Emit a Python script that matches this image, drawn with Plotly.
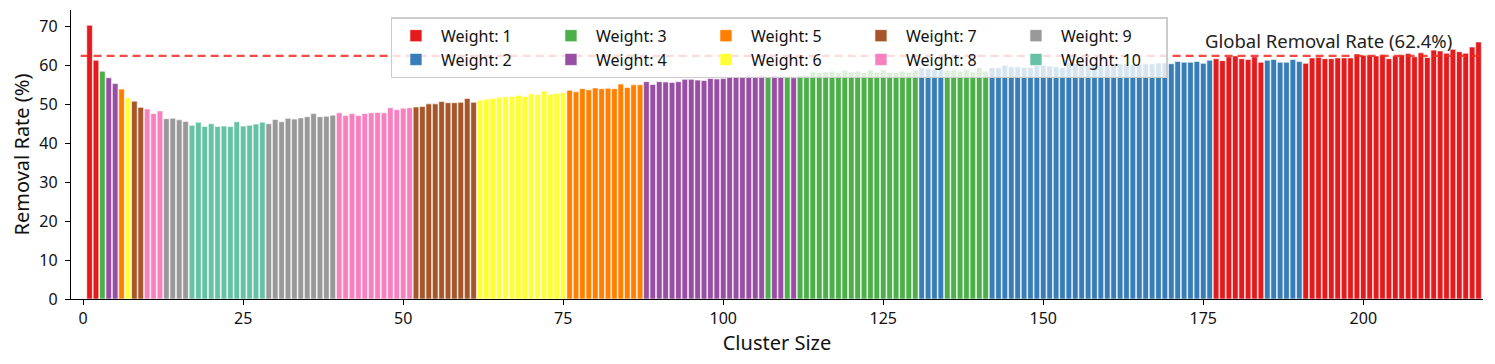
import plotly.graph_objects as go

# cluster sizes 1..218, removal rate (%) and the weight each size falls under
cluster_size = list(range(1, 219))

removal_rate = [
    70.3, 61.3, 58.5, 56.8, 55.3, 53.9, 51.6, 50.8, 49.2, 48.8,
    47.6, 48.3, 46.3, 46.4, 46.0, 45.6, 44.6, 45.4, 44.3, 45.0,
    44.3, 44.4, 44.3, 45.5, 44.4, 44.6, 44.9, 45.4, 45.0, 46.1,
    45.5, 46.4, 46.2, 46.5, 46.8, 47.6, 46.8, 46.9, 47.2, 47.8,
    47.1, 47.6, 47.1, 47.6, 47.8, 47.9, 47.8, 49.1, 48.6, 49.0,
    49.1, 49.3, 49.4, 50.1, 50.1, 50.7, 50.4, 50.4, 50.5, 51.5,
    50.5, 51.0, 51.3, 51.5, 51.8, 51.9, 52.0, 52.3, 52.0, 52.7,
    52.5, 53.4, 52.6, 52.8, 53.0, 53.6, 53.2, 54.0, 53.7, 54.2,
    54.0, 54.1, 54.0, 55.2, 54.3, 55.0, 55.0, 55.8, 55.1, 55.8,
    55.7, 55.6, 55.8, 56.4, 56.4, 56.2, 56.1, 56.6, 56.5, 56.6,
    57.1, 57.0, 56.9, 57.3, 57.2, 57.3, 57.0, 57.3, 57.2, 57.2,
    56.8, 57.4, 57.4, 58.3, 58.1, 58.3, 58.5, 58.1, 58.7, 58.3,
    58.5, 58.1, 58.8, 58.2, 58.8, 58.2, 58.1, 58.5, 58.2, 58.8,
    59.4, 59.1, 58.9, 58.9, 58.7, 58.8, 58.5, 58.9, 58.3, 59.4,
    58.5, 59.4, 59.4, 60.0, 59.6, 59.6, 59.4, 59.4, 60.0, 60.0,
    59.8, 59.6, 59.4, 60.6, 60.4, 60.2, 60.0, 60.2, 60.2, 60.2,
    60.4, 60.4, 60.4, 60.2, 60.2, 60.4, 60.4, 60.6, 60.6, 60.4,
    61.0, 60.8, 60.8, 61.0, 60.5, 61.3, 61.7, 61.2, 62.2, 62.4,
    61.7, 61.5, 62.2, 60.8, 61.3, 61.5, 60.8, 60.8, 61.5, 61.0,
    60.5, 61.9, 62.1, 61.7, 61.7, 61.9, 61.9, 61.9, 62.9, 62.6,
    62.6, 62.4, 62.7, 61.7, 62.4, 62.7, 63.0, 62.2, 63.2, 62.0,
    63.9, 63.7, 63.1, 64.1, 63.5, 63.1, 64.7, 66.0,
]

weight = [
    1, 1, 3, 4, 4, 5, 6, 7, 7, 8, 8, 8, 9, 9, 9, 9,
    10, 10, 10, 10, 10, 10, 10, 10, 10, 10, 10, 10,
    9, 9, 9, 9, 9, 9, 9, 9, 9, 9, 9,
    8, 8, 8, 8, 8, 8, 8, 8, 8, 8, 8, 8,
    7, 7, 7, 7, 7, 7, 7, 7, 7, 7,
    6, 6, 6, 6, 6, 6, 6, 6, 6, 6, 6, 6, 6, 6,
    5, 5, 5, 5, 5, 5, 5, 5, 5, 5, 5, 5,
    4, 4, 4, 4, 4, 4, 4, 4, 4, 4, 4, 4, 4, 4, 4, 4, 4, 4, 4,
    3, 4, 4, 3, 4,
    3, 3, 3, 3, 3, 3, 3, 3, 3, 3, 3, 3, 3, 3, 3, 3, 3, 3, 3,
    2, 2, 2, 2,
    3, 3, 3, 3, 3, 3, 3,
    2, 2, 2, 2, 2, 2, 2, 2, 2, 2, 2, 2, 2, 2, 2, 2, 2, 2, 2, 2,
    2, 2, 2, 2, 2, 2, 2, 2, 2, 2, 2, 2, 2, 2, 2,
    1, 1, 1, 1, 1, 1, 1, 1,
    2, 2, 2, 2, 2, 2,
    1, 1, 1, 1, 1, 1, 1, 1, 1, 1, 1, 1, 1, 1, 1, 1, 1, 1, 1, 1,
    1, 1, 1, 1, 1, 1, 1, 1,
]

weight_colors = {
    1: "#e41a1c", 2: "#377eb8", 3: "#4daf4a", 4: "#984ea3", 5: "#ff7f00",
    6: "#ffff33", 7: "#a65628", 8: "#f781bf", 9: "#999999", 10: "#66c2a5",
}

global_rate = 62.4
FONT = "Noto Sans"

fig = go.Figure()

for w in range(1, 11):
    xs = [c for c, k in zip(cluster_size, weight) if k == w]
    ys = [v for v, k in zip(removal_rate, weight) if k == w]
    fig.add_trace(go.Bar(
        x=xs, y=ys, name=f"Weight: {w}",
        width=0.88,
        marker=dict(color=weight_colors[w], line=dict(color="white", width=0.6)),
        legendgroup=f"g{(w + 1) // 2}",
    ))

# global average line + label
fig.add_shape(type="line", x0=-0.4, x1=218.3, y0=global_rate, y1=global_rate,
              line=dict(color="rgba(240,45,35,0.85)", width=2.2, dash="8px,5px"),
              layer="above")
fig.add_annotation(x=194.6, y=66.4, text=f"Global Removal Rate ({global_rate}%)",
                   showarrow=False, font=dict(size=18.5, color="#222222", family=FONT))

# page body has an 8px margin, so the figure is a bit smaller than the window
fig.update_layout(
    width=1479, height=348,
    margin=dict(l=63, r=4, t=2, b=57),
    plot_bgcolor="white", paper_bgcolor="white",
    barmode="overlay",
    font=dict(family=FONT, size=15, color="#111111"),
    showlegend=True,
    legend=dict(
        orientation="h", traceorder="grouped",
        x=0.2266, y=0.975, xanchor="left", yanchor="top",
        bgcolor="rgba(255,255,255,0.8)", bordercolor="#cccccc", borderwidth=1.5,
        font=dict(size=16, family=FONT),
        entrywidth=100, tracegroupgap=0, itemwidth=40,
    ),
)

fig.update_xaxes(
    range=[-1.9, 218.7], tickvals=[0, 25, 50, 75, 100, 125, 150, 175, 200],
    showline=True, linecolor="black", linewidth=1.3, mirror=False,
    ticks="outside", ticklen=5, tickwidth=1.2, tickcolor="black",
    showgrid=False, zeroline=False, automargin=False,
    tickfont=dict(size=16, family=FONT),
    title=dict(text="Cluster Size", font=dict(size=20, family=FONT), standoff=6),
)
fig.update_yaxes(
    range=[0, 74.2], tickvals=[0, 10, 20, 30, 40, 50, 60, 70],
    showline=True, linecolor="black", linewidth=1.3,
    ticks="outside", ticklen=5, tickwidth=1.2, tickcolor="black",
    showgrid=False, zeroline=False, automargin=False,
    ticklabelstandoff=4,
    tickfont=dict(size=16, family=FONT),
    title=dict(text="Removal Rate (%)", font=dict(size=20, family=FONT), standoff=8),
)

fig.write_html("out.html")
